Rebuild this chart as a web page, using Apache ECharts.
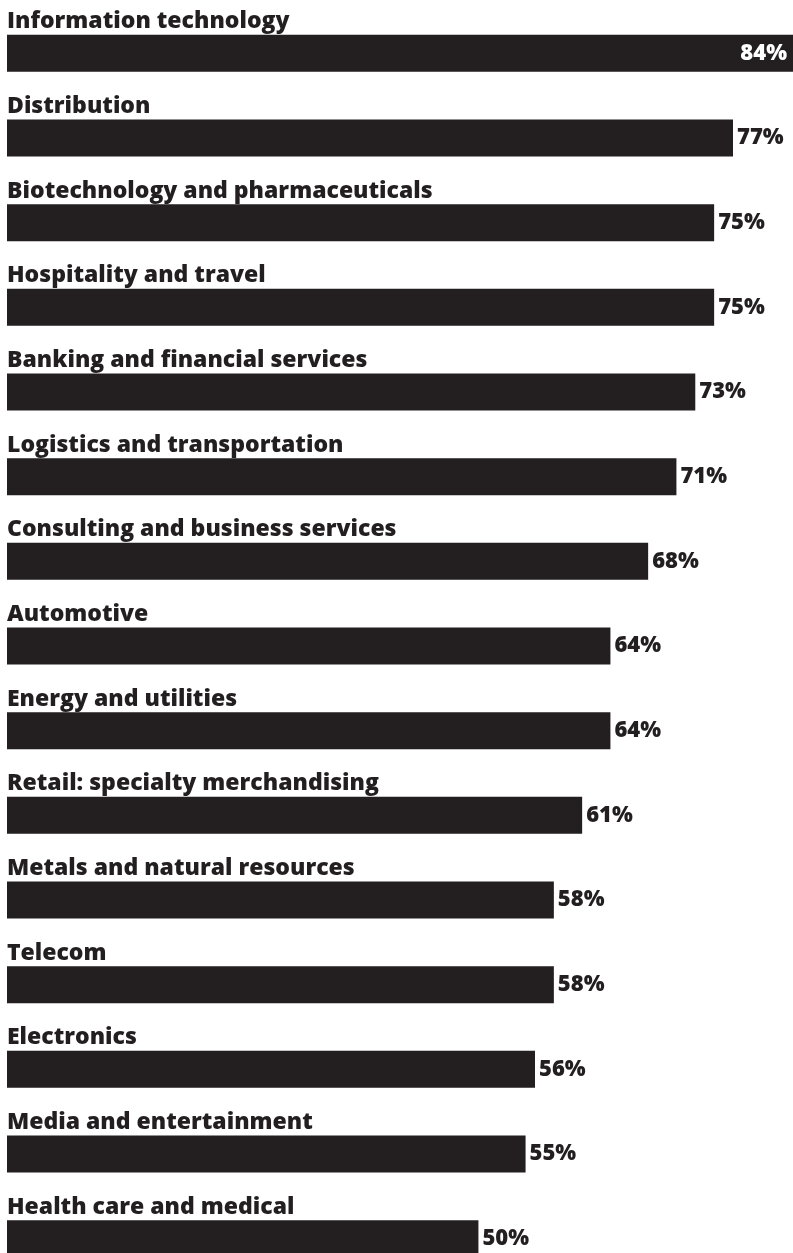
<!DOCTYPE html>
<html>
<head>
<meta charset="utf-8">
<script src="https://cdn.jsdelivr.net/npm/echarts@6/dist/echarts.min.js"></script>
<style>
  html, body { margin: 0; padding: 0; background: #ffffff; }
  #chart { width: 793px; height: 1253px; }
</style>
</head>
<body>
<div id="chart"></div>
<script>
// Share of companies by industry (percent)
const categories = [
  'Information technology',
  'Distribution',
  'Biotechnology and pharmaceuticals',
  'Hospitality and travel',
  'Banking and financial services',
  'Logistics and transportation',
  'Consulting and business services',
  'Automotive',
  'Energy and utilities',
  'Retail: specialty merchandising',
  'Metals and natural resources',
  'Telecom',
  'Electronics',
  'Media and entertainment',
  'Health care and medical'
];
const values = [84, 77, 75, 75, 73, 71, 68, 64, 64, 61, 58, 58, 56, 55, 50];

const INK = '#231f20';
const FONT = '"Open Sans", "DejaVu Sans", sans-serif';

const chart = echarts.init(document.getElementById('chart'), null, { renderer: 'canvas' });

const seriesData = values.map((v, i) => {
  const item = { value: v };
  if (i === 0) {
    // the longest bar carries its value inside, in white
    item.label = { position: 'insideRight', color: '#ffffff', distance: 12 };
  }
  return item;
});

chart.setOption({
  animation: false,
  backgroundColor: '#ffffff',
  grid: {
    left: 7, top: 11, width: 792, height: 1270,
    containLabel: false,
    outerBoundsMode: 'none'
  },
  xAxis: {
    type: 'value', min: 0, max: 84,
    show: false
  },
  yAxis: {
    type: 'category',
    data: categories,
    inverse: true,
    axisLine: { show: false },
    axisTick: { show: false },
    splitLine: { show: false },
    axisLabel: {
      inside: true,
      margin: 0,
      align: 'left',
      verticalAlign: 'bottom',
      padding: [0, 0, 20, 0],
      color: INK,
      fontFamily: FONT,
      fontWeight: 800,
      fontSize: 23
    },
    z: 10
  },
  series: [{
    type: 'bar',
    data: seriesData,
    barWidth: 37,
    itemStyle: { color: INK },
    label: {
      show: true,
      position: 'right',
      distance: 4,
      formatter: p => p.value + '%',
      color: INK,
      fontFamily: FONT,
      fontWeight: 800,
      fontSize: 22
    }
  }]
});
</script>
</body>
</html>
